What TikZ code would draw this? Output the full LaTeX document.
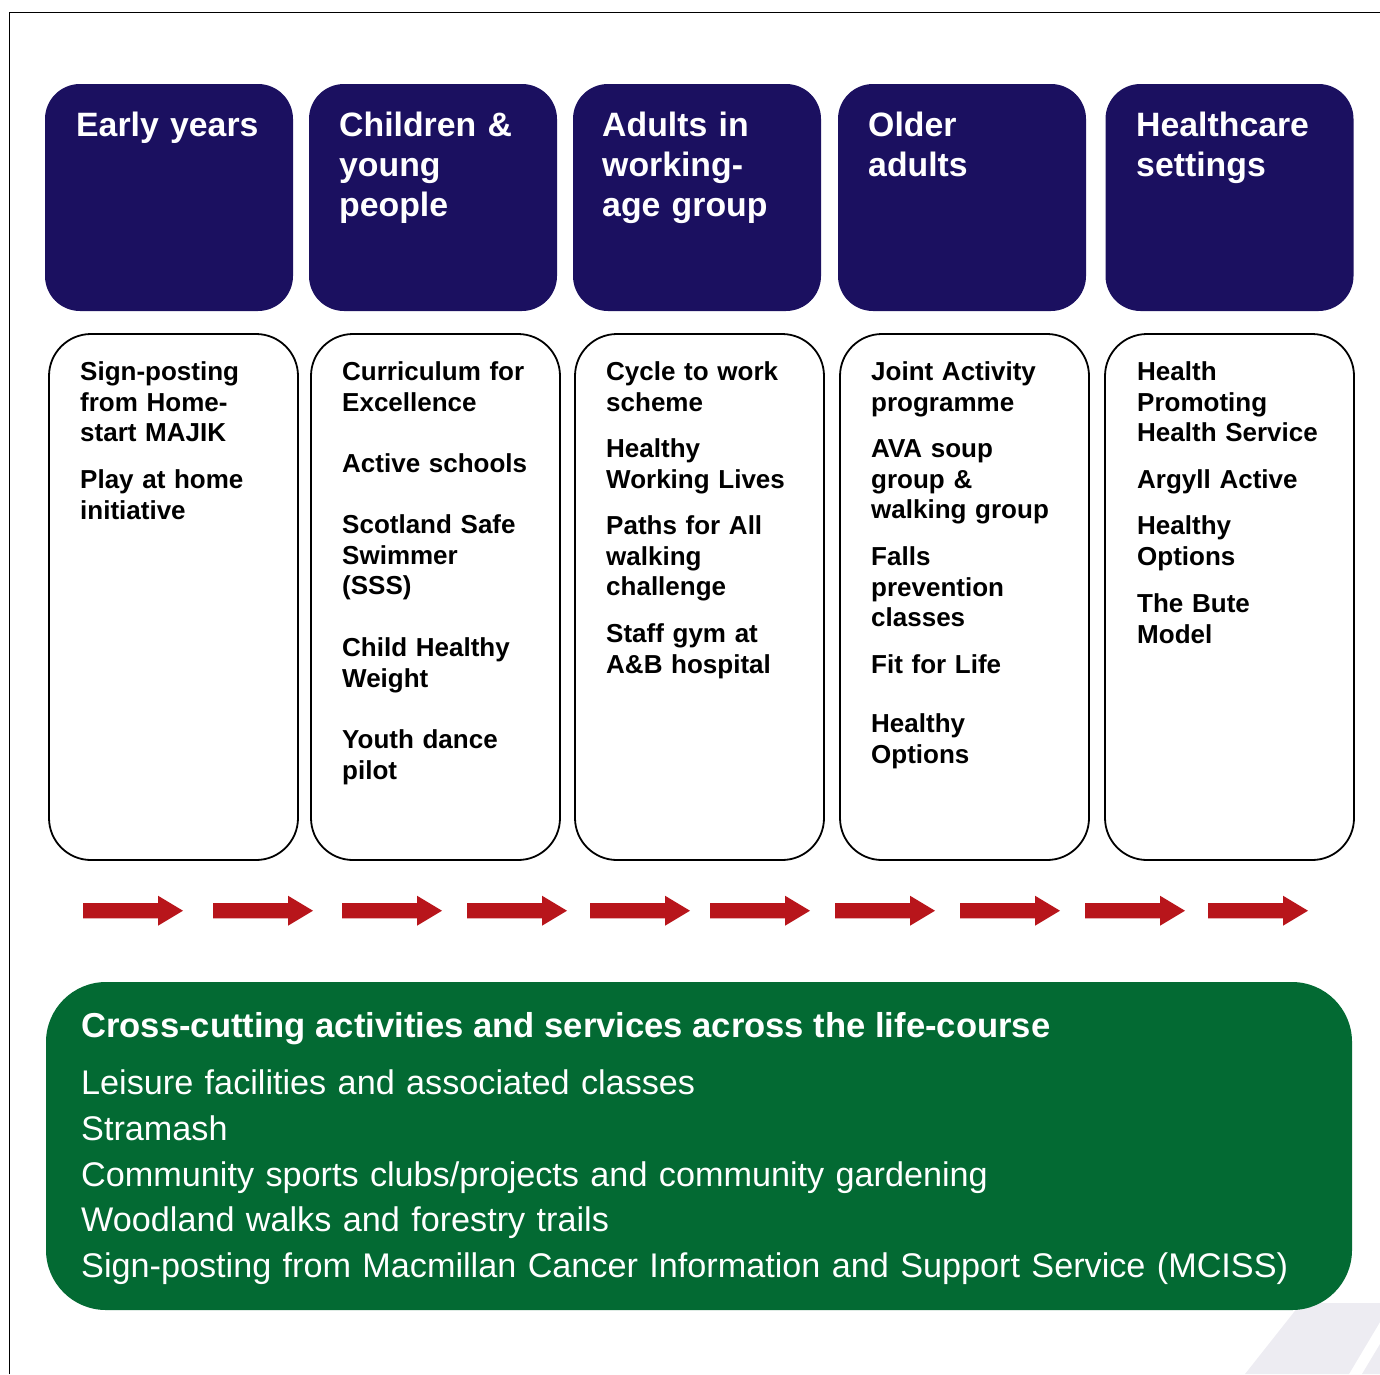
\documentclass[tikz,border=0pt]{standalone}
\usepackage{fontspec}
\setmainfont{Liberation Sans}
\definecolor{navy}{HTML}{1B1060}
\definecolor{dgreen}{HTML}{036A33}
\definecolor{arrowred}{HTML}{B8151B}
\definecolor{lightgrey}{HTML}{EDECF2}
\tikzset{
  headbox/.style={fill=navy, rounded corners=35pt, minimum width=248pt, minimum height=227pt, inner sep=0pt},
  itembox/.style={draw=black, line width=1.8pt, fill=white, rounded corners=42pt, minimum width=249pt, minimum height=526pt, inner sep=0pt},
  headtext/.style={anchor=base west, inner sep=0pt, text width=220pt, align=left, text=white, font=\fontsize{33.8}{40}\selectfont\bfseries},
  itemtext/.style={anchor=base west, inner sep=0pt, text width=225pt, align=left, text=black, font=\fontsize{26}{30.7}\selectfont\bfseries},
  crossbox/.style={fill=dgreen, rounded corners=60pt, minimum width=1306pt, minimum height=328pt, inner sep=0pt},
  redarrow/.style={fill=arrowred, draw=none}
}
\begin{document}
\begin{tikzpicture}[x=1pt,y=-1pt]
\useasboundingbox (0,0) rectangle (1380,1374);
% background decoration
\fill[lightgrey] (1245,1374) -- (1298,1307) .. controls (1300,1304) and (1302,1303) .. (1306,1303) -- (1380,1303) -- (1380,1322) -- (1349,1374) -- cycle;
\fill[lightgrey] (1362,1374) -- (1380,1344) -- (1380,1374) -- cycle;
% frame
\draw[line width=1.8pt] (9.5,1374) -- (9.5,12.5) -- (1380,12.5);
% header boxes
\node[headbox] (h1) at (169,197.5) {};
\node[headbox] (h2) at (433,197.5) {};
\node[headbox] (h3) at (697,197.5) {};
\node[headbox] (h4) at (962,197.5) {};
\node[headbox] (h5) at (1229.5,197.5) {};
\node[headtext] (ht1) at (76,136) {Early years};
\node[headtext] (ht2) at (339,136) {Children \&\\young\\people};
\node[headtext] (ht3) at (602,136) {Adults in\\working-\\age group};
\node[headtext] (ht4) at (868,136) {Older\\adults};
\node[headtext] (ht5) at (1136,136) {Healthcare\\settings};
% item boxes
\node[itembox] (b1) at (173.5,597) {};
\node[itembox] (b2) at (435.5,597) {};
\node[itembox] (b3) at (699.5,597) {};
\node[itembox] (b4) at (964.5,597) {};
\node[itembox] (b5) at (1229.5,597) {};
% column 1
\node[itemtext] (c1a) at (80,380.5) {Sign-posting\\from Home-\\start MAJIK};
\node[itemtext] (c1b) at (80,488.5) {Play at home\\initiative};
% column 2
\node[itemtext] (c2a) at (342,380.5) {Curriculum for\\Excellence};
\node[itemtext] (c2b) at (342,472.5) {Active schools};
\node[itemtext] (c2c) at (342,533.5) {Scotland Safe\\Swimmer\\(SSS)};
\node[itemtext] (c2d) at (342,656.5) {Child Healthy\\Weight};
\node[itemtext] (c2e) at (342,748.5) {Youth dance\\pilot};
% column 3
\node[itemtext] (c3a) at (606,380.5) {Cycle to work\\scheme};
\node[itemtext] (c3b) at (606,457.5) {Healthy\\Working Lives};
\node[itemtext] (c3c) at (606,534.5) {Paths for All\\walking\\challenge};
\node[itemtext] (c3d) at (606,642.5) {Staff gym at\\A\&B hospital};
% column 4
\node[itemtext] (c4a) at (871,380.5) {Joint Activity\\programme};
\node[itemtext] (c4b) at (871,457.5) {AVA soup\\group \&\\walking group};
\node[itemtext] (c4c) at (871,565.5) {Falls\\prevention\\classes};
\node[itemtext] (c4d) at (871,673.5) {Fit for Life};
\node[itemtext] (c4e) at (871,732.5) {Healthy\\Options};
% column 5
\node[itemtext] (c5a) at (1137,380.5) {Health\\Promoting\\Health Service};
\node[itemtext] (c5b) at (1137,488.5) {Argyll Active};
\node[itemtext] (c5c) at (1137,534.5) {Healthy\\Options};
\node[itemtext] (c5d) at (1137,612.5) {The Bute\\Model};
% arrows
\foreach \sx in {83,213,342,467,590,710,835,960,1085,1208}{
  \fill[redarrow] (\sx,903) -- (\sx+75,903) -- (\sx+75,895.7) -- (\sx+100,910.7) -- (\sx+75,925.7) -- (\sx+75,918.3) -- (\sx,918.3) -- cycle;
}
% cross-cutting box
\node[crossbox] (cc) at (699,1146) {};
\node[anchor=base west, inner sep=0pt, text=white, font=\fontsize{34.6}{40}\selectfont\bfseries] (cct) at (81,1037.5) {Cross-cutting activities and services across the life-course};
\node[anchor=base west, inner sep=0pt, text width=1260pt, align=left, text=white, font=\fontsize{34.2}{45.8}\selectfont] (ccl) at (81,1094.5) {Leisure facilities and associated classes\\Stramash\\Community sports clubs/projects and community gardening\\Woodland walks and forestry trails\\Sign-posting from Macmillan Cancer Information and Support Service (MCISS)};
\end{tikzpicture}
\end{document}
